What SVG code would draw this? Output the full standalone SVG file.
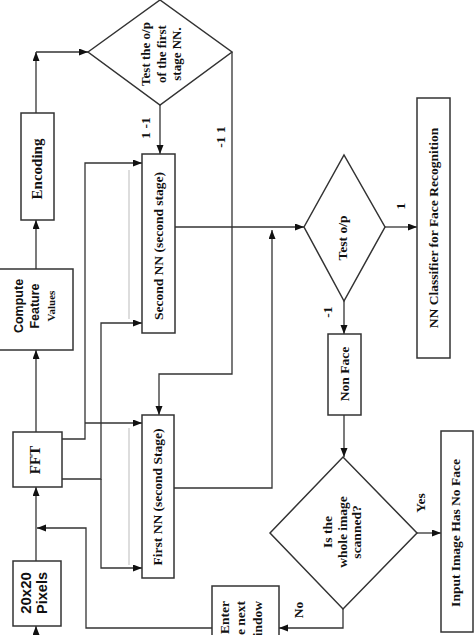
<svg xmlns="http://www.w3.org/2000/svg" width="474" height="635" viewBox="0 0 474 635">
<defs>
<marker id="ah" markerUnits="userSpaceOnUse" markerWidth="10" markerHeight="8" refX="9" refY="3.5" orient="auto">
<path d="M0,0 L9,3.5 L0,7 z" fill="#111"/>
</marker>
<style>
.box{fill:#fff;stroke:#333;stroke-width:1.5}
.c{fill:none;stroke:#333;stroke-width:1.3}
.a{marker-end:url(#ah)}
.g{fill:none;stroke:#bbb;stroke-width:1}
.t{font-family:"Liberation Serif","Times New Roman",serif;font-weight:bold;font-size:13.5px;fill:#111;text-anchor:middle;dominant-baseline:central}
.s{font-family:"Liberation Sans",Arial,sans-serif;font-weight:bold;font-size:14px;fill:#111;text-anchor:middle;dominant-baseline:central}
</style>
</defs>
<rect width="474" height="635" fill="#fff"/>
<g id="connectors">
<line class="c a" x1="36" y1="113" x2="36" y2="52"/>
<line class="c a" x1="36" y1="52" x2="88" y2="52"/>
<line class="c a" x1="36" y1="269" x2="36" y2="220"/>
<line class="c a" x1="36" y1="432" x2="36" y2="350"/>
<line class="c a" x1="36" y1="561" x2="36" y2="487"/>
<line class="c a" x1="36" y1="640" x2="36" y2="626"/>
<line class="c a" x1="160" y1="105" x2="160" y2="154"/>
<polyline class="c a" points="232,52 232,374 159,374 159,415"/>
<polyline class="c a" points="62,439 85,439 85,163 142,163"/>
<line class="c a" x1="85" y1="423" x2="142" y2="423"/>
<polyline class="c a" points="62,479 101,479 101,323 142,323"/>
<polyline class="c a" points="101,479 101,568 142,568"/>
<line class="c a" x1="175" y1="227" x2="304" y2="227"/>
<polyline class="c a" points="174,488 272,488 272,230"/>
<line class="c a" x1="385" y1="227" x2="417" y2="227"/>
<line class="c a" x1="344" y1="301" x2="344" y2="334"/>
<line class="c a" x1="344" y1="415" x2="344" y2="457"/>
<line class="c a" x1="417" y1="533" x2="441" y2="533"/>
<polyline class="c a" points="343,609 343,628 279,628"/>
<polyline class="c a" points="212,628 86,628 86,528 37,528"/>
<line class="g" x1="129" y1="170" x2="129" y2="319"/>
<line class="g" x1="129" y1="428" x2="129" y2="565"/>
<text class="t" transform="translate(145,128) rotate(-90)">1 -1</text>
<text class="t" transform="translate(220,137) rotate(-90)">-1 1</text>
<text class="t" transform="translate(400,206) rotate(-90)">1</text>
<text class="t" transform="translate(327,312) rotate(-90)">-1</text>
<text class="t" transform="translate(420,503) rotate(-90)">Yes</text>
<text class="t" transform="translate(298,610) rotate(-90)">No</text>
</g>
<g id="pixels">
<rect class="box" x="13" y="561" width="48" height="65"/>
<text class="s" style="font-size:15px" transform="translate(25,593) rotate(-90)">20x20</text>
<text class="s" style="font-size:14.5px" transform="translate(42,593) rotate(-90)">Pixels</text>
</g>
<g id="fft">
<rect class="box" x="13" y="432" width="49" height="55"/>
<text class="t" style="font-size:15px" transform="translate(35,460) rotate(-90)">FFT</text>
</g>
<g id="compute">
<rect class="box" x="-1" y="269" width="74" height="81"/>
<text class="s" style="font-size:12.5px" transform="translate(19,306) rotate(-90)">Compute</text>
<text class="s" style="font-size:12.5px" transform="translate(35,306) rotate(-90)">Feature</text>
<text class="t" style="font-size:11px" transform="translate(51,306) rotate(-90)">Values</text>
</g>
<g id="encoding">
<rect class="box" x="21" y="113" width="33" height="107"/>
<text class="t" style="font-size:15px" transform="translate(37,169) rotate(-90)">Encoding</text>
</g>
<g id="test1">
<polygon class="box" points="88,52 160,0 232,52 160,105"/>
<text class="t" style="font-size:13px" transform="translate(145,54) rotate(-90)">Test the o/p</text>
<text class="t" style="font-size:13px" transform="translate(161,54) rotate(-90)">of the first</text>
<text class="t" style="font-size:13px" transform="translate(176,54) rotate(-90)">stage NN.</text>
</g>
<g id="second-nn">
<rect class="box" x="142" y="154" width="33" height="179"/>
<text class="t" transform="translate(158,246) rotate(-90)">Second NN (second stage)</text>
</g>
<g id="first-nn">
<rect class="box" x="142" y="415" width="32" height="163"/>
<text class="t" transform="translate(157,497) rotate(-90)">First NN (second Stage)</text>
</g>
<g id="test2">
<polygon class="box" points="304,227 344,155 385,227 344,301"/>
<text class="t" transform="translate(342,238) rotate(-90)">Test o/p</text>
</g>
<g id="classifier">
<rect class="box" x="417" y="98" width="33" height="260"/>
<text class="t" transform="translate(433,228) rotate(-90)">NN Classifier for Face Recognition</text>
</g>
<g id="nonface">
<rect class="box" x="328" y="334" width="33" height="81"/>
<text class="t" transform="translate(344,374) rotate(-90)">Non Face</text>
</g>
<g id="scanned">
<polygon class="box" points="270,533 343,457 417,533 343,609"/>
<text class="t" transform="translate(327,532) rotate(-90)">Is the</text>
<text class="t" transform="translate(342,532) rotate(-90)">whole image</text>
<text class="t" transform="translate(356,532) rotate(-90)">scanned?</text>
</g>
<g id="noface">
<rect class="box" x="441" y="431" width="32" height="201"/>
<text class="t" transform="translate(455,533) rotate(-90)">Input Image Has No Face</text>
</g>
<g id="enter">
<rect class="box" x="212" y="586" width="67" height="80"/>
<text class="t" style="text-anchor:end" transform="translate(224,601) rotate(-90)">Enter</text>
<text class="t" style="text-anchor:end" transform="translate(240,601) rotate(-90)">the next</text>
<text class="t" style="text-anchor:end" transform="translate(257,601) rotate(-90)">window</text>
</g>
</svg>
